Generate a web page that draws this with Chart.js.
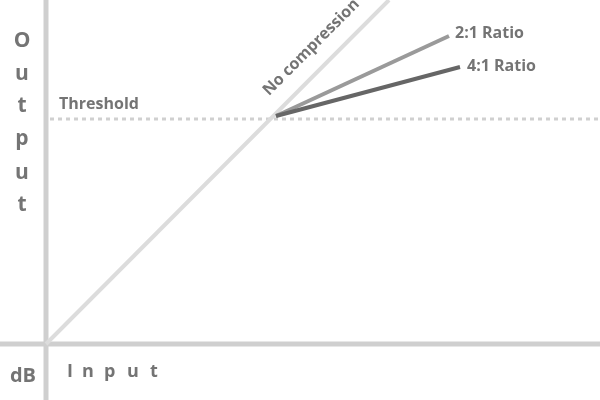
<!DOCTYPE html>
<html>
<head>
<meta charset="utf-8">
<script src="https://cdn.jsdelivr.net/npm/chart.js@4.4.1/dist/chart.umd.min.js"></script>
<style>
  html, body { margin: 0; padding: 0; background: #ffffff; }
  #wrap { width: 600px; height: 400px; }
</style>
</head>
<body>
<div id="wrap"><canvas id="c" width="600" height="400"></canvas></div>
<script>
// ---- data (abstract dB units, origin at the axes' crossing) ----
const xRange = [-4.6, 55.4];
const yRange = [-5.6, 34.4];
const thresholdLevel = 22.5;
const noCompression = [{x: 0, y: 0}, {x: 34.3, y: 34.4}];
const ratio2to1 = [{x: 23.0, y: 22.8}, {x: 40.3, y: 30.8}];
const ratio4to1 = [{x: 23.0, y: 22.8}, {x: 41.4, y: 27.7}];
const thresholdLine = [{x: 0.4, y: thresholdLevel}, {x: 55.4, y: thresholdLevel}];
const verticalAxis = [{x: 0, y: yRange[0]}, {x: 0, y: yRange[1]}];
const horizontalAxis = [{x: xRange[0], y: 0}, {x: xRange[1], y: 0}];
const seriesLabels = ['No compression', '2:1 Ratio', '4:1 Ratio'];
const thresholdLabel = 'Threshold';
const yAxisLetters = ['O', 'u', 't', 'p', 'u', 't'];
const xAxisLetters = ['I', 'n', 'p', 'u', 't'];
const unitLabel = 'dB';

const TEXT = '#747474';
const FONT = '"Open Sans", "DejaVu Sans", sans-serif';

const labelsPlugin = {
  id: 'labels',
  afterDatasetsDraw(chart) {
    const ctx = chart.ctx;
    const xs = chart.scales.x, ys = chart.scales.y;
    const px = v => xs.getPixelForValue(v);
    const py = v => ys.getPixelForValue(v);
    ctx.save();
    ctx.fillStyle = TEXT;

    // Output (vertical letters)
    ctx.font = 'bold 21px ' + FONT;
    ctx.textAlign = 'center';
    ctx.textBaseline = 'alphabetic';
    const outBase = [47, 80, 112, 145, 179, 211];
    yAxisLetters.forEach((ch, i) => ctx.fillText(ch, px(0) - 24, outBase[i]));

    // dB
    ctx.font = 'bold 20px ' + FONT;
    ctx.textAlign = 'center';
    ctx.fillText(unitLabel, px(0) - 23, py(0) + 38);

    // Input letters
    ctx.font = 'bold 18px ' + FONT;
    ctx.textAlign = 'left';
    const inLeft = [67, 82, 104, 127, 150];
    xAxisLetters.forEach((ch, i) => ctx.fillText(ch, inLeft[i], py(0) + 33));

    // Threshold
    ctx.font = 'bold 16px ' + FONT;
    ctx.textAlign = 'left';
    ctx.fillText(thresholdLabel, px(0) + 13, py(thresholdLevel) - 10);

    // Ratio labels
    ctx.font = 'bold 16px ' + FONT;
    const e2 = ratio2to1[ratio2to1.length - 1];
    const e4 = ratio4to1[ratio4to1.length - 1];
    ctx.fillText(seriesLabels[1], px(e2.x) + 6, py(e2.y) + 2);
    ctx.fillText(seriesLabels[2], px(e4.x) + 7, py(e4.y) + 4);

    // No compression rotated along its line
    const a = noCompression[0], b = noCompression[1];
    const ang = Math.atan2(py(b.y) - py(a.y), px(b.x) - px(a.x));
    const cx = px(27.0), cy = py(29.2);
    ctx.translate(cx, cy);
    ctx.rotate(ang);
    ctx.textAlign = 'center';
    ctx.textBaseline = 'alphabetic';
    ctx.font = 'bold 16px ' + FONT;
    ctx.fillText(seriesLabels[0], 0, -2);
    ctx.restore();
  }
};

const line = (data, color, width, order, dash) => ({
  data, borderColor: color, borderWidth: width, showLine: true,
  pointRadius: 0, fill: false, order, borderDash: dash || [], borderCapStyle: 'butt'
});

new Chart(document.getElementById('c'), {
  type: 'scatter',
  data: {
    datasets: [
      line(verticalAxis, '#cfcfcf', 5, 5),
      line(horizontalAxis, '#cfcfcf', 5, 5),
      line(thresholdLine, '#d0d0d0', 3, 4, [4, 4]),
      line(noCompression, '#dcdcdc', 4, 3),
      line(ratio2to1, '#9a9a9a', 4, 2),
      line(ratio4to1, '#666666', 4, 1)
    ]
  },
  options: {
    responsive: false,
    animation: false,
    layout: { padding: 0 },
    plugins: { legend: { display: false }, tooltip: { enabled: false } },
    scales: {
      x: { type: 'linear', min: xRange[0], max: xRange[1], display: false },
      y: { type: 'linear', min: yRange[0], max: yRange[1], display: false }
    }
  },
  plugins: [labelsPlugin]
});
</script>
</body>
</html>
